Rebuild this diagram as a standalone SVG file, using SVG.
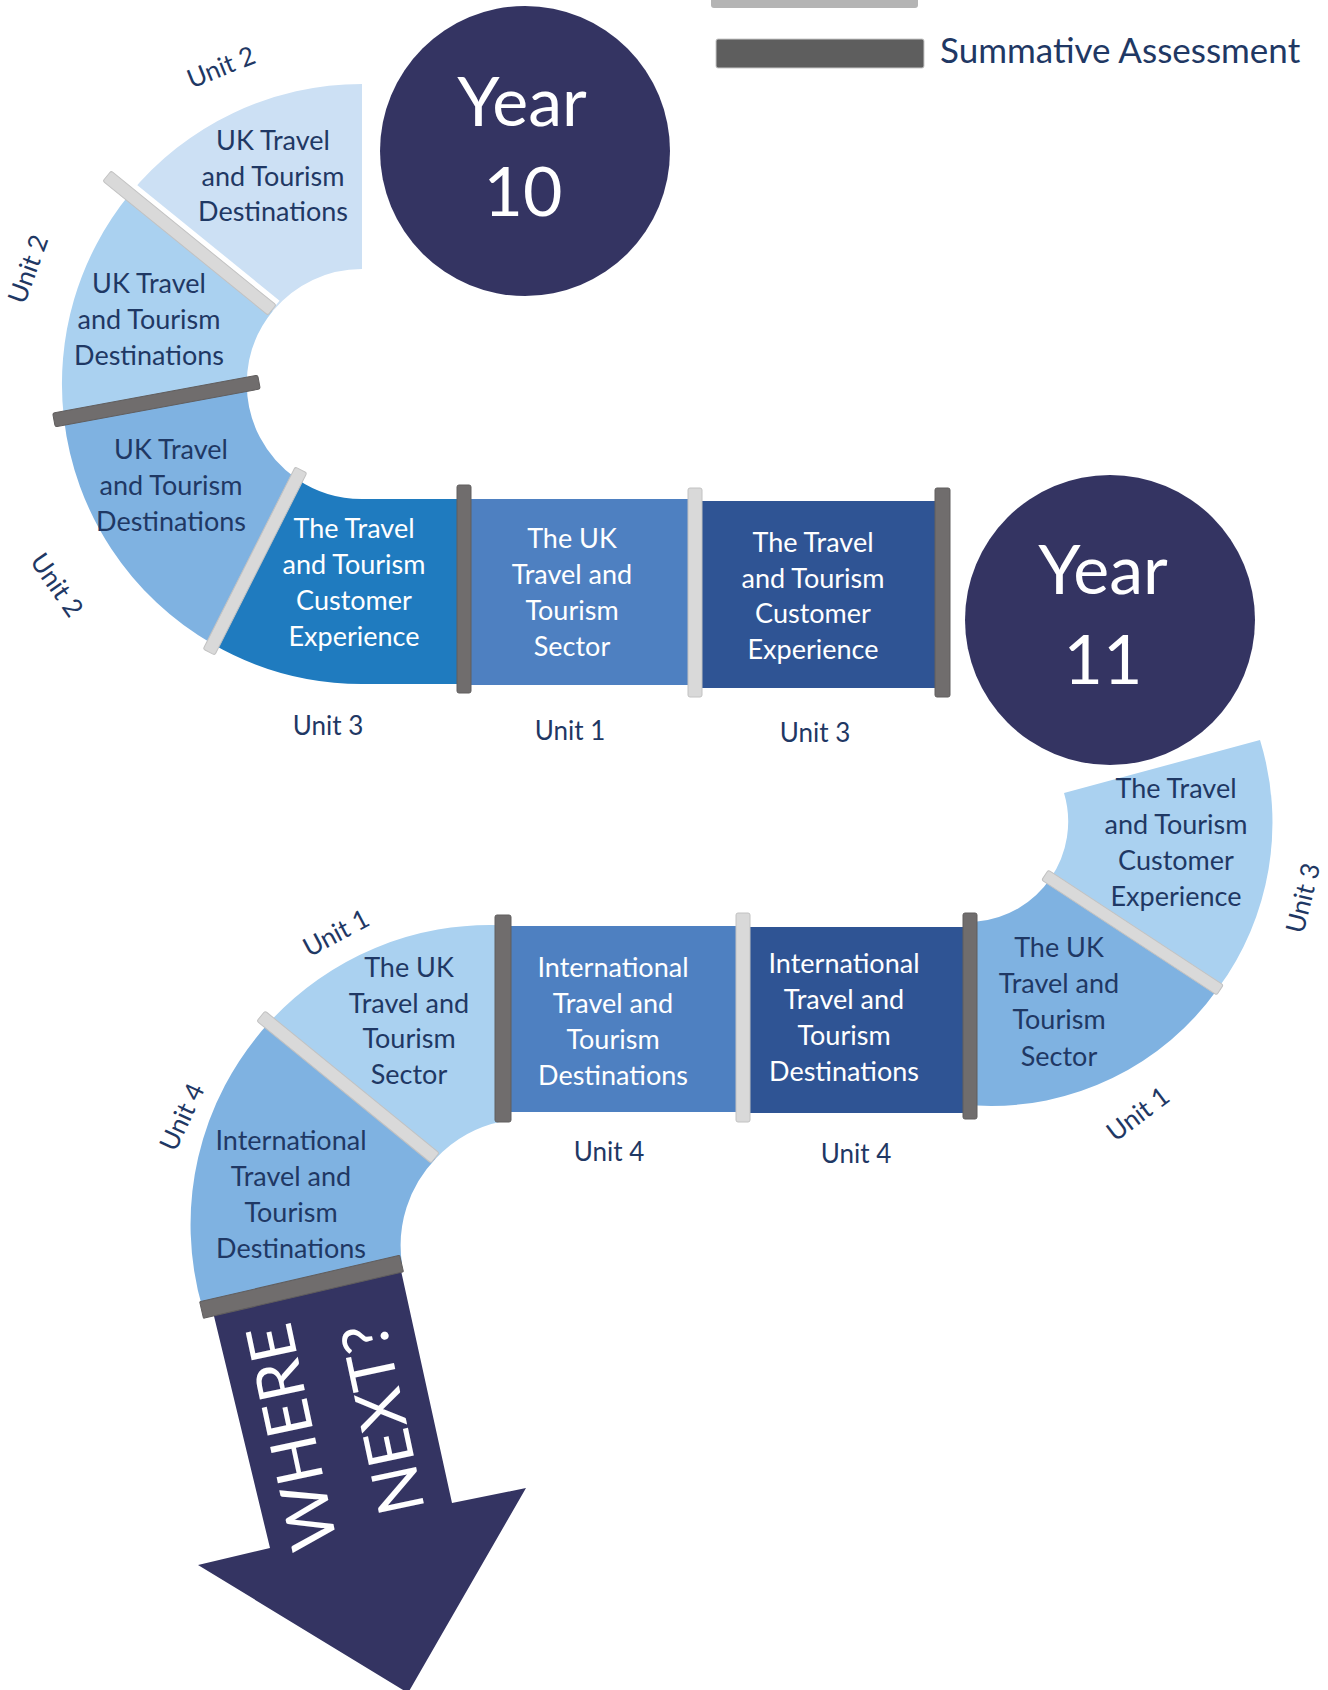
<svg xmlns="http://www.w3.org/2000/svg" width="1328" height="1690" viewBox="0 0 1328 1690">
  <style>
    text { font-family: Lato, "Open Sans", "Liberation Sans", sans-serif; }
    .lbl { font-size: 27px; text-anchor: middle; }
    .dk { fill: #1f3864; }
    .wt { fill: #ffffff; }
    .unit { font-size: 26px; fill: #1f3864; text-anchor: middle; }
    .yr { font-size: 68px; fill: #ffffff; text-anchor: middle; }
    .wn { font-size: 64px; fill: #ffffff; text-anchor: middle; }
    .c1 { fill: #cce0f4; }
    .c2 { fill: #aad1f0; }
    .c3 { fill: #7fb2e1; }
    .c4 { fill: #1f7bbf; }
    .c5 { fill: #4e80c1; }
    .c6 { fill: #2f5494; }
    .navy { fill: #343462; }
    .mk-light { fill: #d9d9d9; stroke: #c2c2c2; stroke-width: 1; }
    .mk-dark { fill: #706d6d; stroke: #615e5e; stroke-width: 1; }
  </style>

  <!-- legend -->
  <g id="legend">
    <rect x="711" y="-20" width="207" height="28" rx="3" fill="#b4b4b4"/>
    <rect x="716" y="39" width="208" height="29" rx="2" fill="#5e5e5e" stroke="#c8c8c8" stroke-width="1"/>
    <text x="940" y="63" font-size="35" fill="#1f3864">Summative Assessment</text>
  </g>

  <!-- Year 10 path -->
  <g id="y10-seg1">
    <path class="c1" d="M362 84 A300 300 0 0 0 129.5 194.3 L273 310.8 A115 115 0 0 1 362 269 Z"/>
    <text class="lbl dk" x="273" y="150">UK Travel</text>
    <text class="lbl dk" x="273" y="186">and Tourism</text>
    <text class="lbl dk" x="273" y="221">Destinations</text>
  </g>
  <g id="y10-seg2">
    <path class="c2" d="M129.5 194.3 A300 300 0 0 0 63.9 418.2 L246.8 384.3 A115 115 0 0 1 273 310.8 Z"/>
    <text class="lbl dk" x="149" y="293">UK Travel</text>
    <text class="lbl dk" x="149" y="329">and Tourism</text>
    <text class="lbl dk" x="149" y="365">Destinations</text>
  </g>
  <g id="y10-seg3">
    <path class="c3" d="M63.9 418.2 A300 300 0 0 0 212.9 644.3 L296.5 478.7 A115 115 0 0 1 246.8 384.3 Z"/>
    <text class="lbl dk" x="171" y="459">UK Travel</text>
    <text class="lbl dk" x="171" y="495">and Tourism</text>
    <text class="lbl dk" x="171" y="531">Destinations</text>
  </g>
  <g id="y10-seg4">
    <path class="c4" d="M212.9 644.3 A300 300 0 0 0 362 684 L462 684 L462 499 L362 499 A115 115 0 0 1 296.5 478.7 Z"/>
    <text class="lbl wt" x="354" y="538">The Travel</text>
    <text class="lbl wt" x="354" y="574">and Tourism</text>
    <text class="lbl wt" x="354" y="610">Customer</text>
    <text class="lbl wt" x="354" y="646">Experience</text>
  </g>
  <g id="y10-box1">
    <rect class="c5" x="470" y="499" width="218" height="186"/>
    <text class="lbl wt" x="572" y="548">The UK</text>
    <text class="lbl wt" x="572" y="584">Travel and</text>
    <text class="lbl wt" x="572" y="620">Tourism</text>
    <text class="lbl wt" x="572" y="656">Sector</text>
  </g>
  <g id="y10-box2">
    <rect class="c6" x="702" y="501" width="234" height="187"/>
    <text class="lbl wt" x="813" y="552">The Travel</text>
    <text class="lbl wt" x="813" y="588">and Tourism</text>
    <text class="lbl wt" x="813" y="623">Customer</text>
    <text class="lbl wt" x="813" y="659">Experience</text>
  </g>

  <g id="year10">
    <circle class="navy" cx="525" cy="151" r="145"/>
    <text class="yr" x="522" y="126">Year</text>
    <text class="yr" x="523" y="216">10</text>
  </g>

  <g id="year11">
    <circle class="navy" cx="1110" cy="620" r="145"/>
    <text class="yr" x="1103" y="594">Year</text>
    <text class="yr" x="1103" y="684">11</text>
  </g>

  <!-- Year 11 path -->
  <g id="y11-seg1">
    <path class="c2" d="M1064 793 L1260 740 A280 280 0 0 1 1218 988.6 L1050.4 878.6 A100 100 0 0 0 1064 793 Z"/>
    <text class="lbl dk" x="1176" y="798">The Travel</text>
    <text class="lbl dk" x="1176" y="834">and Tourism</text>
    <text class="lbl dk" x="1176" y="870">Customer</text>
    <text class="lbl dk" x="1176" y="906">Experience</text>
  </g>
  <g id="y11-seg2">
    <path class="c3" d="M1050.4 878.6 L1218 988.6 A278 278 0 0 1 977 1105.6 L965 1105.6 L965 921.6 L977 921.6 A100 100 0 0 0 1050.4 878.6 Z"/>
    <text class="lbl dk" x="1059" y="957">The UK</text>
    <text class="lbl dk" x="1059" y="993">Travel and</text>
    <text class="lbl dk" x="1059" y="1029">Tourism</text>
    <text class="lbl dk" x="1059" y="1066">Sector</text>
  </g>
  <g id="y11-box2">
    <rect class="c6" x="749" y="927" width="215" height="186"/>
    <text class="lbl wt" x="844" y="973">International</text>
    <text class="lbl wt" x="844" y="1009">Travel and</text>
    <text class="lbl wt" x="844" y="1045">Tourism</text>
    <text class="lbl wt" x="844" y="1081">Destinations</text>
  </g>
  <g id="y11-box1">
    <rect class="c5" x="510" y="926" width="226" height="186"/>
    <text class="lbl wt" x="613" y="977">International</text>
    <text class="lbl wt" x="613" y="1013">Travel and</text>
    <text class="lbl wt" x="613" y="1049">Tourism</text>
    <text class="lbl wt" x="613" y="1085">Destinations</text>
  </g>
  <g id="y11-seg3">
    <path class="c2" d="M503 925.3 A299 299 0 0 0 269.1 1022.6 L435.8 1158.6 A125 125 0 0 1 503 1121.3 Z"/>
    <text class="lbl dk" x="409" y="977">The UK</text>
    <text class="lbl dk" x="409" y="1013">Travel and</text>
    <text class="lbl dk" x="409" y="1048">Tourism</text>
    <text class="lbl dk" x="409" y="1084">Sector</text>
  </g>
  <g id="y11-seg4">
    <path class="c3" d="M269.1 1022.6 A299 299 0 0 0 203 1310 L402 1264 A125 125 0 0 1 435.8 1158.6 Z"/>
    <text class="lbl dk" x="291" y="1150">International</text>
    <text class="lbl dk" x="291" y="1186">Travel and</text>
    <text class="lbl dk" x="291" y="1222">Tourism</text>
    <text class="lbl dk" x="291" y="1258">Destinations</text>
  </g>

  <g id="where-next">
    <path class="navy" d="M213 1312 L400 1266 L452 1503 L526 1488 L408 1693 L198 1565 L270 1548 Z"/>
    <text class="wn" transform="translate(292 1437) rotate(-102)" dy="0.35em">WHERE</text>
    <text class="wn" transform="translate(383 1419) rotate(-102)" dy="0.35em">NEXT?</text>
  </g>

  <!-- assessment markers between units -->
  <g id="markers">
    <line x1="112.7" y1="169" x2="277.7" y2="303" stroke="#ffffff" stroke-width="6"/>
    <rect class="mk-light" x="-106.3" y="-6.5" width="212.6" height="13" rx="2" transform="translate(189.5 243) rotate(39.1)"/>
    <rect class="mk-dark" x="-104.3" y="-7" width="208.5" height="14" rx="2" transform="translate(156.5 401) rotate(-10.5)"/>
    <rect class="mk-light" x="-102" y="-6.5" width="204" height="13" rx="2" transform="translate(255 561) rotate(-63.2)"/>
    <rect class="mk-dark" x="457" y="485" width="14" height="208" rx="2"/>
    <rect class="mk-light" x="688" y="488" width="14" height="209" rx="2"/>
    <rect class="mk-dark" x="935" y="488" width="15" height="209" rx="2"/>
    <rect class="mk-light" x="-104.7" y="-6" width="209.4" height="12" rx="2" transform="translate(1132.5 932.5) rotate(33.3)"/>
    <rect class="mk-dark" x="963" y="913" width="14" height="206" rx="2"/>
    <rect class="mk-light" x="736" y="913" width="14" height="209" rx="2"/>
    <rect class="mk-dark" x="495" y="915" width="16" height="207" rx="2"/>
    <rect class="mk-light" x="-112.3" y="-6.5" width="224.6" height="13" rx="2" transform="translate(348 1087) rotate(39.2)"/>
    <rect class="mk-dark" x="-102.6" y="-8.5" width="205.3" height="17" rx="1" transform="translate(301.5 1286.8) rotate(-13.1)"/>
  </g>

  <!-- unit captions -->
  <g id="captions">
    <text class="unit" transform="translate(221 67) rotate(-22)" dy="0.35em">Unit 2</text>
    <text class="unit" transform="translate(28 269) rotate(-70)" dy="0.35em">Unit 2</text>
    <text class="unit" transform="translate(57 585) rotate(55)" dy="0.35em">Unit 2</text>
    <text class="unit" x="328" y="735">Unit 3</text>
    <text class="unit" x="570" y="740">Unit 1</text>
    <text class="unit" x="815" y="742">Unit 3</text>
    <text class="unit" transform="translate(1303 898) rotate(-76)" dy="0.35em">Unit 3</text>
    <text class="unit" transform="translate(1138 1114) rotate(-37)" dy="0.35em">Unit 1</text>
    <text class="unit" x="609" y="1161">Unit 4</text>
    <text class="unit" x="856" y="1163">Unit 4</text>
    <text class="unit" transform="translate(336 933) rotate(-28)" dy="0.35em">Unit 1</text>
    <text class="unit" transform="translate(182 1117) rotate(-65)" dy="0.35em">Unit 4</text>
  </g>
</svg>
